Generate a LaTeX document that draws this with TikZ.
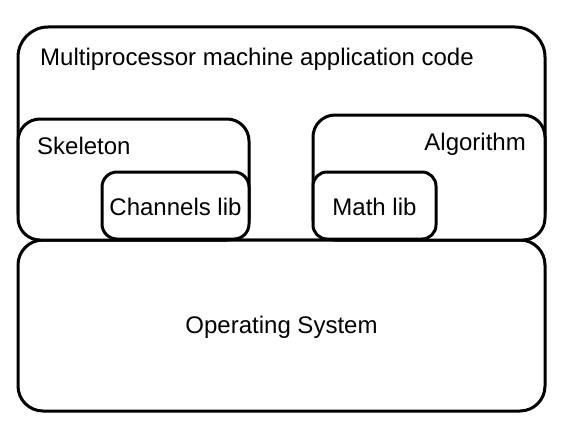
\documentclass[tikz,border=0pt]{standalone}
\usepackage{fontspec}
\setmainfont{Liberation Sans}
\begin{document}
\begin{tikzpicture}[x=1pt,y=-1pt,
  box/.style={draw=black, line width=3pt, fill=white, anchor=north west, inner sep=0pt, outer sep=0pt},
  lbl/.style={inner sep=0pt, font=\fontsize{24}{28}\selectfont}]
\useasboundingbox (0,0) rectangle (562,436);
\node[box, rounded corners=30pt, minimum width=527pt, minimum height=213pt] (app) at (18,27) {};
\node[box, rounded corners=25pt, minimum width=527pt, minimum height=171pt] (os) at (18,240) {};
\node[box, rounded corners=22pt, minimum width=231pt, minimum height=121pt] (skel) at (18,119) {};
\node[box, rounded corners=22pt, minimum width=232pt, minimum height=125pt] (alg) at (313,115) {};
\node[box, rounded corners=15pt, minimum width=147pt, minimum height=67pt] (chan) at (102,172) {};
\node[box, rounded corners=14pt, minimum width=123pt, minimum height=67pt] (math) at (313,172) {};
\node[lbl, anchor=base west] (tapp) at (40,66) {Multiprocessor machine application code};
\node[lbl, anchor=base west] (tskel) at (37,154) {Skeleton};
\node[lbl, anchor=base east] (talg) at (526,150) {Algorithm};
\node[lbl, anchor=base] (tchan) at (175.5,215) {Channels lib};
\node[lbl, anchor=base] (tmath) at (374.5,215) {Math lib};
\node[lbl, anchor=base] (tos) at (281.5,333) {Operating System};
\end{tikzpicture}
\end{document}
